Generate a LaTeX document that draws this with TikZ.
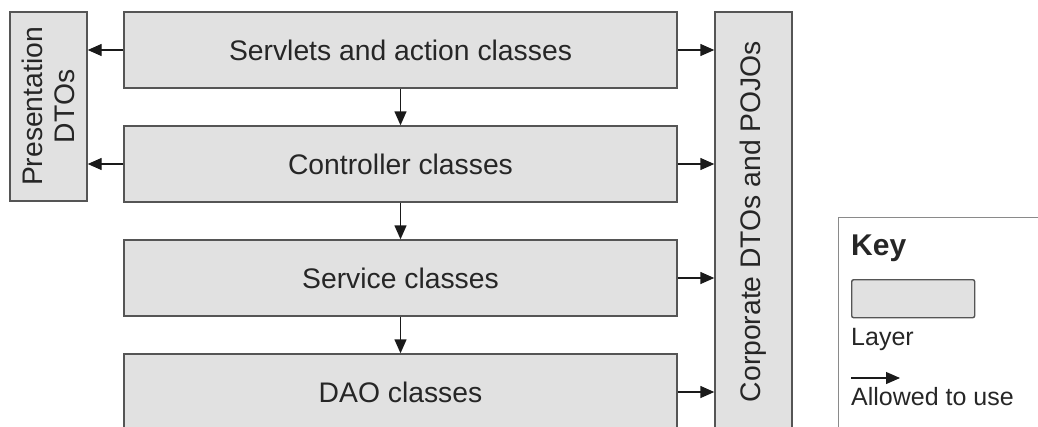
\documentclass[tikz,border=0pt]{standalone}
\usepackage{fontspec}
\setmainfont{Liberation Sans}
\usetikzlibrary{arrows.meta}
\definecolor{boxfill}{HTML}{E1E1E1}
\definecolor{boxline}{HTML}{555555}
\definecolor{txt}{HTML}{262626}
\definecolor{arrowc}{HTML}{1A1A1A}
\definecolor{keyline}{HTML}{8A8A8A}
\begin{document}
\begin{tikzpicture}[x=1pt,y=-1pt,
  layer/.style={draw=boxline, fill=boxfill, line width=1.4pt, inner sep=0pt,
    font=\fontsize{28.3}{32}\selectfont, text=txt},
  uses/.style={line width=1.4pt, draw=arrowc,
    -{Triangle[length=14pt,width=12pt]}},
  keytext/.style={anchor=base west, inner sep=0pt, text=txt,
    font=\fontsize{25}{28}\selectfont},
]
\useasboundingbox (0,0) rectangle (1038,426);
\clip (0,0) rectangle (1038,426);

% layers
\node[layer, minimum width=553pt, minimum height=76pt] (serv) at (400.5,50) {Servlets and action classes};
\node[layer, minimum width=553pt, minimum height=76pt] (ctrl) at (400.5,164) {Controller classes};
\node[layer, minimum width=553pt, minimum height=76pt] (svc) at (400.5,278) {Service classes};
\node[layer, minimum width=553pt, minimum height=76pt] (dao) at (400.5,392) {DAO classes};

% side boxes
\node[layer, minimum width=77pt, minimum height=189pt] (pres) at (48.5,106.5) {};
\node[rotate=90, align=center, text=txt, font=\fontsize{28.3}{32}\selectfont] (prestext) at (pres) {Presentation\\DTOs};
\node[layer, minimum width=77pt, minimum height=419pt] (corp) at (753.5,221.5) {};
\node[rotate=90, text=txt, font=\fontsize{28.3}{32}\selectfont] (corptext) at (corp) {Corporate DTOs and POJOs};

% connectors
\draw[uses] (serv.west) -- (serv.west -| pres.east);
\draw[uses] (ctrl.west) -- (ctrl.west -| pres.east);
\draw[uses] (serv.east) -- (serv.east -| corp.west);
\draw[uses] (ctrl.east) -- (ctrl.east -| corp.west);
\draw[uses] (svc.east) -- (svc.east -| corp.west);
\draw[uses] (dao.east) -- (dao.east -| corp.west);
\draw[uses] (serv.south) -- (ctrl.north);
\draw[uses] (ctrl.south) -- (svc.north);
\draw[uses] (svc.south) -- (dao.north);

% key
\node[draw=keyline, line width=1.2pt, minimum width=230pt, minimum height=240pt, anchor=north west, inner sep=0pt] (key) at (838,217) {};
\node[keytext, font=\bfseries\fontsize{30}{32}\selectfont] (keyt) at (851,255) {Key};
\node[layer, rounded corners=2pt, minimum width=123pt, minimum height=38pt, anchor=north west] (klayer) at (851,279) {};
\node[keytext] (klabel) at (851,345) {Layer};
\coordinate (ka) at (851,378);
\coordinate (kb) at (900,378);
\draw[uses, line width=1.1pt] (ka) -- (kb);
\node[keytext] (kallow) at (851,405) {Allowed to use};
\end{tikzpicture}
\end{document}
